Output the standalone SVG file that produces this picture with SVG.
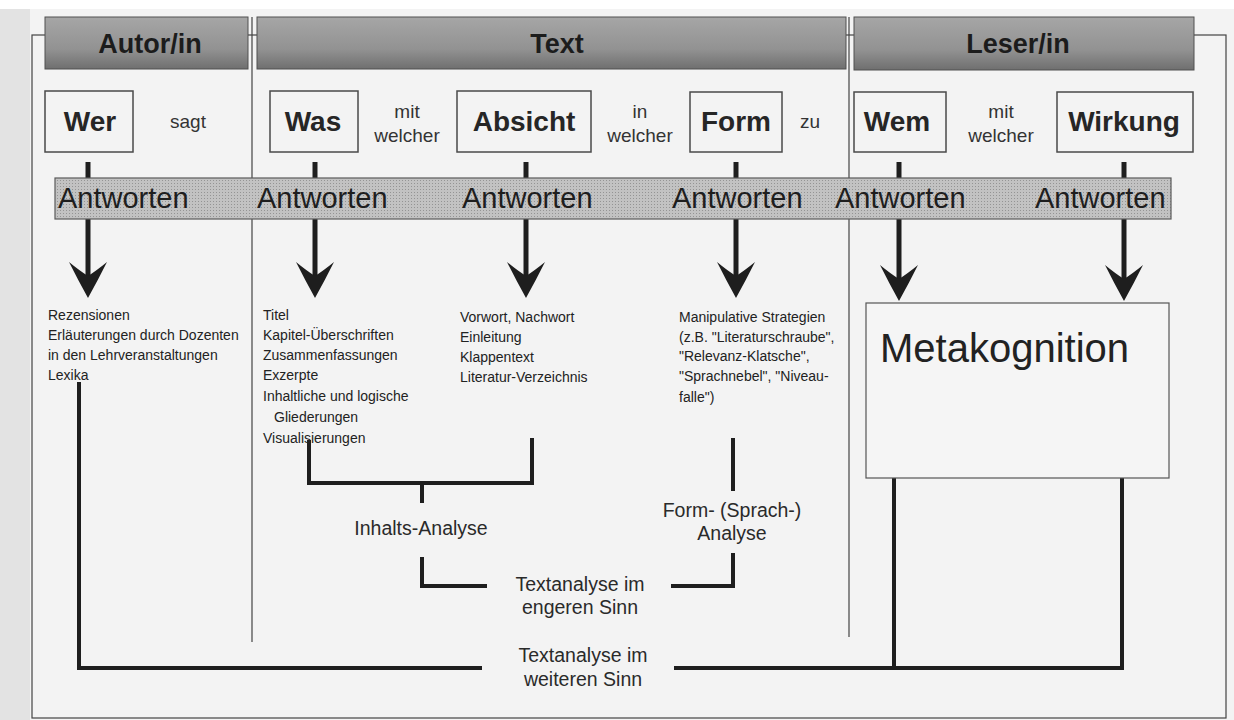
<svg xmlns="http://www.w3.org/2000/svg" width="1234" height="720" viewBox="0 0 1234 720">
<defs>
<linearGradient id="hdrg" x1="0" y1="0" x2="0" y2="1">
<stop offset="0" stop-color="#a6a6a6"/>
<stop offset="0.62" stop-color="#929292"/>
<stop offset="1" stop-color="#6f6f6f"/>
</linearGradient>
<pattern id="dots" width="3" height="3" patternUnits="userSpaceOnUse">
<rect width="3" height="3" fill="#c2c2c2"/>
<rect width="1" height="1" fill="#949494"/>
</pattern>
<marker id="arr" markerUnits="userSpaceOnUse" markerWidth="40" markerHeight="40" viewBox="0 0 40 40" refX="14" refY="20" orient="auto">
<path d="M0,1 Q9,12 14,20 Q9,28 0,39 Q18,30 36,20 Q18,10 0,1 Z" fill="#1e1e1e"/>
</marker>
</defs>
<style>
.hdr{fill:url(#hdrg);stroke:#505050;stroke-width:1}
.h{font-family:"Liberation Sans",Arial,sans-serif;font-weight:bold;font-size:27px;fill:#1c1c1c;text-anchor:middle}
.box{fill:none;stroke:#4a4a4a;stroke-width:1.5}
.q{font-family:"Liberation Sans",Arial,sans-serif;font-weight:bold;font-size:28px;fill:#262626;text-anchor:middle}
.w{font-family:"Liberation Sans",Arial,sans-serif;font-size:19px;fill:#333;text-anchor:middle}
.ant{font-family:"Liberation Sans",Arial,sans-serif;font-size:29px;fill:#1e1e1e}
.li{font-family:"Liberation Sans",Arial,sans-serif;font-size:14px;fill:#222}
.an{font-family:"Liberation Sans",Arial,sans-serif;font-size:19.5px;fill:#2a2a2a;text-anchor:middle}
.thin{stroke:#444;stroke-width:1.2;fill:none}
.con{stroke:#1e1e1e;stroke-width:4;fill:none}
.arrow{stroke:#1e1e1e;stroke-width:5;fill:none;marker-end:url(#arr)}
</style>
<rect x="0" y="0" width="1234" height="720" fill="#f3f3f3"/>
<rect x="0" y="0" width="1234" height="9" fill="#ffffff"/>
<rect x="0" y="9" width="30" height="711" fill="#e3e3e3"/>
<g id="frame">
<rect x="32" y="35" width="1194" height="683" class="thin"/>
<line x1="252" y1="17" x2="252" y2="642" class="thin"/>
<line x1="849" y1="17" x2="849" y2="637" class="thin"/>
</g>
<g id="header-autor"><rect x="45" y="17" width="203" height="52" class="hdr"/><text x="150" y="53" class="h">Autor/in</text></g>
<g id="header-text"><rect x="257" y="17" width="589" height="52" class="hdr"/><text x="557" y="53" class="h">Text</text></g>
<g id="header-leser"><rect x="854" y="17" width="340" height="53" class="hdr"/><text x="1018" y="53" class="h">Leser/in</text></g>
<g id="connectors">
<line x1="88" y1="162" x2="88" y2="276" class="arrow"/>
<line x1="315" y1="162" x2="315" y2="276" class="arrow"/>
<line x1="526" y1="162" x2="526" y2="276" class="arrow"/>
<line x1="736" y1="162" x2="736" y2="276" class="arrow"/>
<line x1="899" y1="162" x2="899" y2="279" class="arrow"/>
<line x1="1124" y1="162" x2="1124" y2="279" class="arrow"/>
<path d="M79,382 V668 H482" class="con"/>
<path d="M674,668 H1122 V478" class="con"/>
<path d="M894,478 V668" class="con"/>
<path d="M309,440 V483 H532 V438" class="con"/>
<path d="M422,483 V503" class="con"/>
<path d="M422,557 V586 H487" class="con"/>
<path d="M671,586 H733 V553" class="con"/>
<path d="M733,438 V491" class="con"/>
</g>
<g id="antworten">
<rect x="55" y="178" width="1116" height="41" fill="url(#dots)" stroke="#5a5a5a" stroke-width="1.2"/>
<text x="58" y="208" class="ant">Antworten</text>
<text x="257" y="208" class="ant">Antworten</text>
<text x="462" y="208" class="ant">Antworten</text>
<text x="672" y="208" class="ant">Antworten</text>
<text x="835" y="208" class="ant">Antworten</text>
<text x="1035" y="208" class="ant">Antworten</text>
</g>
<g id="wer"><rect x="45" y="91" width="88" height="61" class="box"/><text x="90" y="131" class="q">Wer</text></g>
<g id="sagt"><text x="188" y="128" class="w">sagt</text></g>
<g id="was"><rect x="270" y="91" width="88" height="61" class="box"/><text x="313" y="131" class="q">Was</text></g>
<g id="mit-welcher-1"><text x="407" y="118" class="w">mit</text><text x="407" y="142" class="w">welcher</text></g>
<g id="absicht"><rect x="457" y="91" width="134" height="61" class="box"/><text x="524" y="131" class="q">Absicht</text></g>
<g id="in-welcher"><text x="640" y="118" class="w">in</text><text x="640" y="142" class="w">welcher</text></g>
<g id="form"><rect x="690" y="92" width="92" height="60" class="box"/><text x="736" y="131" class="q">Form</text></g>
<g id="zu"><text x="810" y="128" class="w">zu</text></g>
<g id="wem"><rect x="854" y="92" width="92" height="60" class="box"/><text x="897" y="131" class="q">Wem</text></g>
<g id="mit-welcher-2"><text x="1001" y="118" class="w">mit</text><text x="1001" y="142" class="w">welcher</text></g>
<g id="wirkung"><rect x="1057" y="92" width="136" height="60" class="box"/><text x="1124" y="131" class="q">Wirkung</text></g>
<g id="list-wer">
<text x="48" y="320" class="li">Rezensionen</text>
<text x="48" y="340" class="li">Erläuterungen durch Dozenten</text>
<text x="48" y="360" class="li">in den Lehrveranstaltungen</text>
<text x="48" y="380" class="li">Lexika</text>
</g>
<g id="list-was">
<text x="263" y="320" class="li">Titel</text>
<text x="263" y="340" class="li">Kapitel-Überschriften</text>
<text x="263" y="360" class="li">Zusammenfassungen</text>
<text x="263" y="380" class="li">Exzerpte</text>
<text x="263" y="401" class="li">Inhaltliche und logische</text>
<text x="274" y="422" class="li">Gliederungen</text>
<text x="263" y="443" class="li">Visualisierungen</text>
</g>
<g id="list-absicht">
<text x="460" y="322" class="li">Vorwort, Nachwort</text>
<text x="460" y="342" class="li">Einleitung</text>
<text x="460" y="362" class="li">Klappentext</text>
<text x="460" y="382" class="li">Literatur-Verzeichnis</text>
</g>
<g id="list-form">
<text x="679" y="322" class="li">Manipulative Strategien</text>
<text x="679" y="342" class="li">(z.B. "Literaturschraube",</text>
<text x="679" y="361" class="li">"Relevanz-Klatsche",</text>
<text x="679" y="381" class="li">"Sprachnebel", "Niveau-</text>
<text x="679" y="402" class="li">falle")</text>
</g>
<g id="metakognition">
<rect x="866" y="303" width="303" height="175" fill="#f5f5f5" stroke="#555" stroke-width="1.2"/>
<text x="880" y="362" font-family="Liberation Sans, Arial, sans-serif" font-size="40" fill="#222">Metakognition</text>
</g>
<g id="inhalts-analyse"><text x="421" y="535" class="an">Inhalts-Analyse</text></g>
<g id="form-analyse"><text x="732" y="517" class="an">Form- (Sprach-)</text><text x="732" y="540" class="an">Analyse</text></g>
<g id="textanalyse-eng"><text x="580" y="591" class="an">Textanalyse im</text><text x="580" y="614" class="an">engeren Sinn</text></g>
<g id="textanalyse-weit"><text x="583" y="662" class="an">Textanalyse im</text><text x="583" y="686" class="an">weiteren Sinn</text></g>
</svg>
